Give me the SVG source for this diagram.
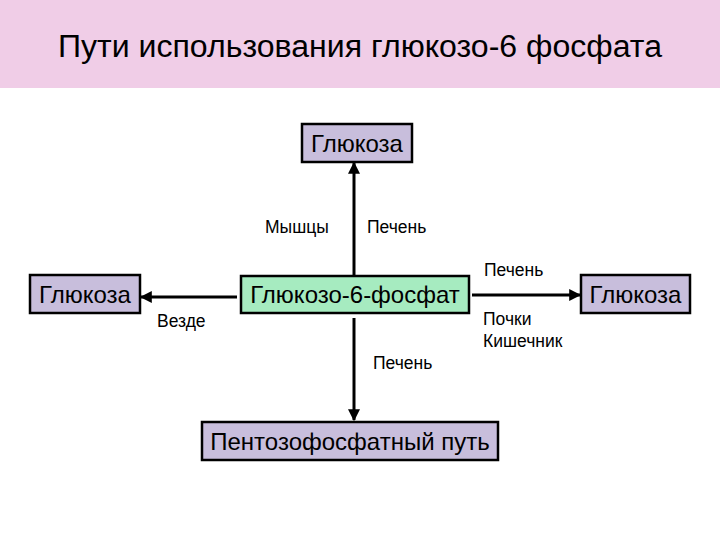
<svg xmlns="http://www.w3.org/2000/svg" width="720" height="540" viewBox="0 0 720 540">
<defs>
<marker id="ah" viewBox="0 0 10 10" refX="9" refY="5" markerWidth="4" markerHeight="4" orient="auto" markerUnits="strokeWidth">
<path d="M0,0 L10,5 L0,10 z" fill="#000"/>
</marker>
<style>
.box{stroke:#000;stroke-width:2.5}
.lav{fill:#C8BEDC}
.grn{fill:#A6EBC0}
.bt{font-family:"Liberation Sans",Arial,sans-serif;font-size:24px;fill:#000;text-anchor:middle}
.lb{font-family:"Liberation Sans",Arial,sans-serif;font-size:17.5px;fill:#000}
.cn{stroke:#000;stroke-width:3;fill:none;marker-end:url(#ah)}
</style>
</defs>
<rect x="0" y="0" width="720" height="540" fill="#fff"/>
<rect x="0" y="0" width="720" height="88" fill="#F0CDE7"/>
<text x="58" y="57" font-family="'Liberation Sans',Arial,sans-serif" font-size="31" textLength="604" lengthAdjust="spacingAndGlyphs" fill="#000">Пути использования глюкозо-6 фосфата</text>
<g id="connectors">
<line class="cn" x1="354" y1="277" x2="354" y2="163"/>
<line class="cn" x1="237" y1="297" x2="141" y2="297"/>
<line class="cn" x1="472" y1="295" x2="580" y2="295"/>
<line class="cn" x1="354" y1="318" x2="354" y2="420"/>
</g>
<g id="n_glucose_top">
<rect class="box lav" x="302" y="124" width="110" height="38"/>
<text class="bt" x="357" y="152">Глюкоза</text>
</g>
<g id="n_glucose_left">
<rect class="box lav" x="30" y="275" width="110" height="38"/>
<text class="bt" x="85" y="303">Глюкоза</text>
</g>
<g id="n_g6p">
<rect class="box grn" x="241" y="276" width="228" height="37"/>
<text class="bt" x="355" y="303">Глюкозо-6-фосфат</text>
</g>
<g id="n_glucose_right">
<rect class="box lav" x="581" y="275" width="109" height="38"/>
<text class="bt" x="635.5" y="303">Глюкоза</text>
</g>
<g id="n_pentose">
<rect class="box lav" x="202" y="422" width="296" height="38"/>
<text class="bt" x="350" y="450">Пентозофосфатный путь</text>
</g>
<g id="labels">
<text class="lb" x="265" y="233">Мышцы</text>
<text class="lb" x="367" y="233">Печень</text>
<text class="lb" x="484" y="276">Печень</text>
<text class="lb" x="483" y="325">Почки</text>
<text class="lb" x="483" y="347">Кишечник</text>
<text class="lb" x="157" y="327">Везде</text>
<text class="lb" x="373" y="369">Печень</text>
</g>
</svg>
